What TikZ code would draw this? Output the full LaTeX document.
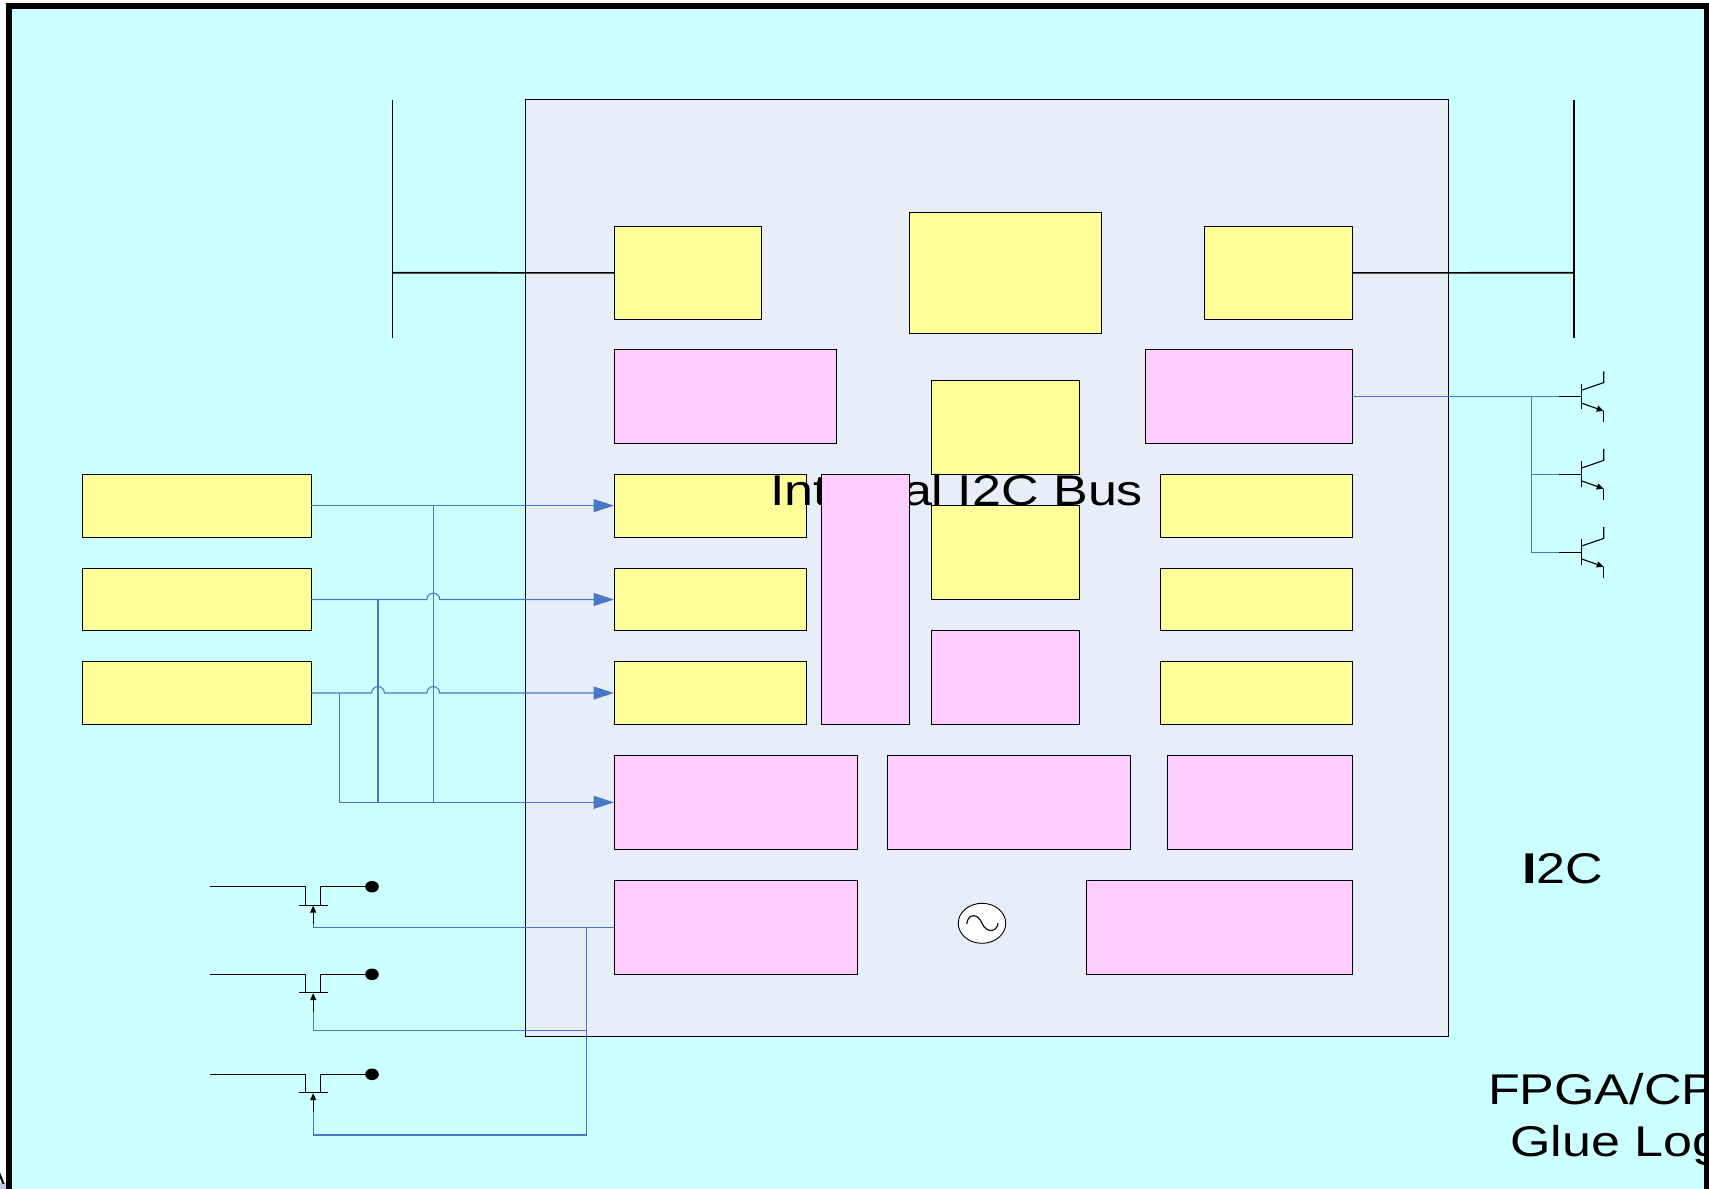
\documentclass[tikz,border=0pt]{standalone}
\usepackage{fontspec}
\setmainfont{Liberation Sans}
\usetikzlibrary{arrows.meta,fit,shapes.geometric}
\definecolor{cyanbg}{HTML}{CCFFFF}
\definecolor{chipbg}{HTML}{E8EEF8}
\definecolor{yel}{HTML}{FFFF99}
\definecolor{pnk}{HTML}{FFCCFF}
\definecolor{wirec}{HTML}{4A78C8}
\definecolor{lav}{HTML}{C4C8E4}
\tikzset{
  blk/.style={draw=black,line width=0.9pt,inner sep=0pt,outer sep=0pt},
  ybox/.style={blk,fill=yel},
  pbox/.style={blk,fill=pnk},
  chip/.style={blk,fill=chipbg},
  wireline/.style={draw=wirec,line width=1.1pt},
  wirearrow/.style={wireline,-{Triangle[length=20.5pt,width=13pt,fill=wirec]}},
  blackline/.style={draw=black,line width=1.1pt},
  busline/.style={draw=black,line width=1.6pt},
  txt/.style={inner sep=0pt,outer sep=0pt,anchor=base west,font=\fontsize{43}{43}\selectfont},
}
\newcommand{\bx}[6]{\node[#2,fit={(#3,#4)(#5,#6)}] (#1) {};}
\newcommand{\widen}[1]{\scalebox{1.21}[1]{#1}}
\newcommand{\bjt}[2]{% name, y
  \coordinate (#1b) at (1559.3,#2);
  \coordinate (#1k) at (1581.3,#2);
  \draw[blackline] (#1b) -- (#1k);
  \draw[blackline] (1581.3,#2-13) -- (1581.3,#2+12.7);
  \draw[blackline] (1581.3,#2-6.3) -- (1603.7,#2-14) -- (1603.7,#2-25.3);
  \draw[blackline,-{Triangle[length=7pt,width=6pt]}] (1581.3,#2+6.4) -- (1603.7,#2+14.4);
  \draw[blackline] (1603.7,#2+14.4) -- (1603.7,#2+25.4);
}
\newcommand{\fet}[3]{% name, y, stem-end y
  \coordinate (#1g) at (313.2,#3);
  \draw[blackline] (209.6,#2) -- (305.7,#2) -- (305.7,#2+18.6);
  \draw[blackline] (298.5,#2+18.6) -- (328.2,#2+18.6);
  \draw[blackline] (320.7,#2+18.6) -- (320.7,#2) -- (372,#2);
  \fill (372,#2) ellipse (6.8 and 5.8);
  \draw[blackline,-{Triangle[length=7pt,width=6pt]}] (#1g) -- (313.2,#2+18.9);
}
\begin{document}
\begin{tikzpicture}[x=1pt,y=-1pt]
\useasboundingbox (0,0) rectangle (1709,1189);
\fill[lav] (0,1183) rectangle (7,1189);
\node[txt,font=\fontsize{24}{24}\selectfont] (afrag) at (-11,1184.5) {A};
\fill[cyanbg] (8.5,6) rectangle (1707,1195);
\bx{chipbox}{chip}{525.7}{99.5}{1448.5}{1036.7}
% buses
\coordinate (lbusT) at (392.6,99.5);
\coordinate (lbusB) at (392.6,337.5);
\coordinate (rbusT) at (1574,99.5);
\coordinate (rbusB) at (1574,337.5);
\coordinate (lbusM) at (392.6,272.7);
\coordinate (rbusM) at (1574,272.7);
\draw[busline] (lbusT) -- (lbusB);
\draw[busline] (rbusT) -- (rbusB);
% top row
\bx{ta}{ybox}{614}{226}{761.8}{319.8}
\bx{tb}{ybox}{909.5}{212.2}{1101}{333.5}
\bx{tc}{ybox}{1204.6}{226}{1352.6}{319.8}
\draw[busline] (lbusM) -- (ta.west);
\draw[busline] (tc.east) -- (rbusM);
% second row
\bx{pa}{pbox}{614}{349.6}{836}{443.6}
\bx{pc}{pbox}{1145.5}{349.6}{1352.6}{443.6}
\bx{cu}{ybox}{931.7}{380.4}{1079.3}{474.3}
% left inputs
\bx{la}{ybox}{82.2}{474.3}{311.3}{537}
\bx{lb}{ybox}{82.2}{568.3}{311.3}{630.7}
\bx{lc}{ybox}{82.2}{661.7}{311.3}{724.3}
% inner left
\bx{ia}{ybox}{614}{474.3}{806.8}{537}
\bx{ib}{ybox}{614}{568.3}{806.8}{630.7}
\bx{ic}{ybox}{614}{661.7}{806.8}{724.3}
% inner right
\bx{ra}{ybox}{1160}{474.3}{1352.6}{537}
\bx{rb}{ybox}{1160}{568.3}{1352.6}{630.7}
\bx{rc}{ybox}{1160}{661.7}{1352.6}{724.3}
% centre
\bx{cl}{ybox}{931.7}{505.4}{1079.3}{599.4}
\bx{cp}{pbox}{931.7}{630.3}{1079.3}{724.3}
\node[txt] (bus) at (770,505) {\widen{Internal I2C Bus}};
\bx{tall}{pbox}{821}{474.3}{909.6}{724.3}
% lower rows
\bx{ma}{pbox}{614}{755.7}{857.8}{849}
\bx{mb}{pbox}{887.3}{755.7}{1130.5}{849}
\bx{mc}{pbox}{1167.4}{755.7}{1352.6}{849}
\bx{ba}{pbox}{614}{880.6}{857.8}{974.4}
\bx{bc}{pbox}{1086.8}{880.6}{1352.6}{974.4}
% oscillator
\node[draw=black,line width=0.9pt,fill=white,ellipse,minimum width=47.5pt,minimum height=40pt,inner sep=0pt] (osc) at (982,923.3) {};
\draw[blackline] (966.7,924) .. controls (968,913) and (978,913) .. (982,923.3) .. controls (986,933) and (997,933) .. (998,923);
% input wires
\coordinate (j1a) at (433.3,505.65);
\coordinate (j1m) at (433.3,802.35);
\coordinate (j2a) at (378,599.5);
\coordinate (j2m) at (378,802.35);
\coordinate (j3a) at (339.3,693);
\coordinate (j3m) at (339.3,802.35);
\coordinate (h1s) at (426.9,599.5);
\coordinate (h2s) at (371.6,693);
\coordinate (h3s) at (426.9,693);
\draw[wirearrow] (la.east) -- (ia.west);
\draw[wirearrow] (lb.east) -- (h1s) arc[start angle=180,end angle=360,radius=6.4] -- (ib.west);
\draw[wirearrow] (lc.east) -- (h2s) arc[start angle=180,end angle=360,radius=6.4] -- (h3s) arc[start angle=180,end angle=360,radius=6.4] -- (ic.west);
\draw[wireline] (j1a) -- (j1m);
\draw[wireline] (j2a) -- (j2m);
\draw[wireline] (j3a) -- (j3m);
\draw[wirearrow] (j3m) -- (ma.west);
% transistors on the right
\bjt{qa}{396.6}
\bjt{qb}{474.4}
\bjt{qc}{552.4}
\coordinate (sp) at (1531.7,396.6);
\coordinate (sq) at (1531.7,474.4);
\coordinate (sr) at (1531.7,552.4);
\draw[wireline] (pc.east) -- (qab);
\draw[wireline] (sp) -- (sr) -- (qcb);
\draw[wireline] (sq) -- (qbb);
% FETs
\fet{fa}{886.7}{924}
\fet{fb}{974.3}{1011.7}
\fet{fc}{1074.3}{1111.7}
\coordinate (tp) at (586.4,927.5);
\coordinate (tq) at (586.4,1030.3);
\coordinate (tr) at (586.4,1135);
\draw[wireline] (ba.west) -- (313.2,927.5) -- (fag);
\draw[wireline] (tq) -- (313.2,1030.3) -- (fbg);
\draw[wireline] (tp) -- (tr) -- (313.2,1135) -- (fcg);
% labels
\node[txt] (i2c) at (1522,883.3) {\widen{\textbf{I}2C}};
\node[txt] (fpga) at (1488,1104) {\widen{FPGA/CP}};
\node[txt] (glue) at (1510.5,1156.7) {\widen{Glue Log}};
% frame on top
\draw[black,line width=5.8pt] (1706.7,1195) -- (1706.7,6.2) -- (8.6,6.2) -- (8.6,1195);
\end{tikzpicture}
\end{document}
